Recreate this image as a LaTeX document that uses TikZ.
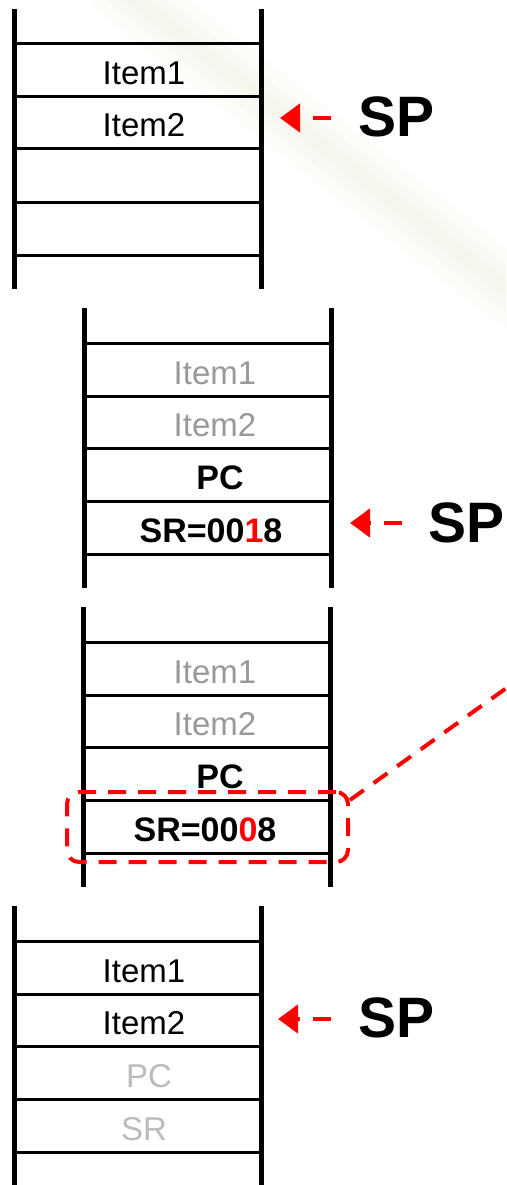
\documentclass[tikz,border=0pt]{standalone}
\usepackage{fontspec}
\setmainfont{Liberation Sans}
\usetikzlibrary{arrows.meta}

\definecolor{fadedgray}{RGB}{153,153,153}
\definecolor{palegray}{RGB}{187,187,187}
\definecolor{spred}{RGB}{255,0,0}
\definecolor{streakouter}{RGB}{252,252,248}
\definecolor{streak}{RGB}{249,249,243}
\definecolor{streakcore}{RGB}{246,245,238}

\tikzset{
  rail/.style={line width=5pt},
  rung/.style={line width=3pt},
  cell/.style={inner sep=0pt, anchor=base, font=\fontsize{33}{36}\selectfont},
  cellbold/.style={cell, font=\fontsize{34}{36}\selectfont\bfseries},
  splabel/.style={inner sep=0pt, anchor=base west, font=\fontsize{57}{60}\selectfont\bfseries},
  sparrow/.style={spred, line width=4.5pt, dash pattern=on 18pt off 13pt,
    -{Triangle[length=20pt,width=28pt]}},
  selbox/.style={draw=spred, line width=4pt, dash pattern=on 18pt off 12pt,
    rounded corners=12pt, minimum width=281pt, minimum height=70pt, inner sep=0pt},
  reglink/.style={spred, line width=4pt, dash pattern=on 17pt off 12pt},
  stackframe/.pic={
    \foreach \yy in {35,88,140,193,246} \draw[rung] (0,\yy) -- (247,\yy);
    \draw[rail] (0,0) -- (0,280);
    \draw[rail] (247,0) -- (247,280);
  }
}

\begin{document}
\begin{tikzpicture}[x=1pt,y=-1pt]
\useasboundingbox (0,0) rectangle (506,1185);
\clip (0,0) rectangle (506,1185);
\fill[white] (0,0) rectangle (506,1185);

% faint diagonal streak in the background, soft edged
\draw[streakouter, line width=64pt] (110,-20) -- (560,331);
\draw[streak, line width=38pt] (110,-20) -- (560,331);
\draw[streakcore, line width=16pt] (110,-20) -- (560,331);

% stack 1: before the call
\pic at (14,9) {stackframe};
\node[cell] (s1i1) at (144,85) {Item1};
\node[cell] (s1i2) at (144,137) {Item2};
\node[splabel] (sp1) at (358,137) {SP};
\coordinate (p1) at (280,118);
\draw[sparrow, shorten <=27pt] (sp1.west |- p1) -- (p1);

% stack 2: PC and SR pushed
\pic at (84,308) {stackframe};
\node[cell, fadedgray] (s2i1) at (215,384) {Item1};
\node[cell, fadedgray] (s2i2) at (215,436) {Item2};
\node[cellbold] (s2pc) at (220,489) {PC};
\node[cellbold] (s2sr) at (211,542) {SR=00\textcolor{spred}{1}8};
\node[splabel] (sp2) at (428,542) {SP};
\coordinate (p2) at (350,523);
\draw[sparrow, shorten <=26pt] (sp2.west |- p2) -- (p2);

% stack 3: saved SR modified
\pic at (83,607) {stackframe};
\node[cell, fadedgray] (s3i1) at (215,683) {Item1};
\node[cell, fadedgray] (s3i2) at (215,735) {Item2};
\node[cellbold] (s3pc) at (220,788) {PC};
\node[cellbold] (s3sr) at (205,841) {SR=00\textcolor{spred}{0}8};
\node[selbox] (sel) at (207.5,827) {};
\coordinate (offpage) at (540,664);
\draw[reglink] ([yshift=-10pt]sel.north east) -- (offpage);

% stack 4: after the return
\pic at (14,906) {stackframe};
\node[cell] (s4i1) at (144,982) {Item1};
\node[cell] (s4i2) at (144,1034) {Item2};
\node[cell, palegray] (s4pc) at (149,1087) {PC};
\node[cell, palegray] (s4sr) at (144,1140) {SR};
\node[splabel] (sp4) at (358,1037) {SP};
\coordinate (p4) at (278,1019);
\draw[sparrow, shorten <=27pt] (sp4.west |- p4) -- (p4);
\end{tikzpicture}
\end{document}
